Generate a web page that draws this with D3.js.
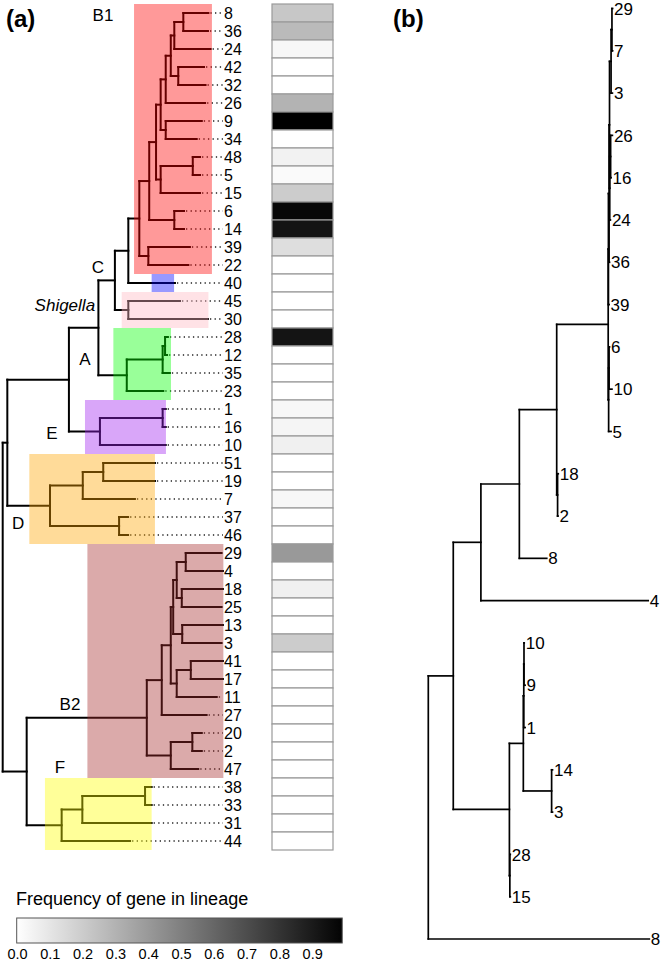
<!DOCTYPE html>
<html><head><meta charset="utf-8">
<script src="https://cdn.jsdelivr.net/npm/d3@7"></script>
<style>
body{margin:0;background:#fff}
svg{display:block}
text{font-family:"Liberation Sans",Arial,Helvetica,sans-serif;fill:#000}
</style></head>
<body><svg id="chart" width="661" height="964"></svg>
<script>
// ---------- DATA ----------
// Tree (a): Newick, value after ':' = distance of node from root
const treeA = "((((((((((((((8:93.5,36:93.3):82.1,24:94.5):78.0,(42:91.5,32:92.2):79.8):76.4,26:92.0):74.1,(9:90.5,34:88.2):74.1):71.8,((48:89.7,5:89.7):86.4,15:89.7):71.8):69.7,(6:82.4,14:82.4):78.0):66.6,(39:85.1,22:84.4):66.2):62.1,40:78.3):57.1,(45:80.6,30:93.3):57.1):51.0,(((28:75.1,12:74.7):73.8,35:76.0):72.7,23:73.0):56.4):43.5,((1:74.1,16:74.1):72.7,10:74.1):44.2):30.1,(((51:69.2,19:69.2):45.7,7:60.1):36.4,(37:57.0,46:57.0):52.9):21.5):2.1,(((((((29:99.5,4:100.1):83.2,(18:100.1,25:99.5):81.4):79.1,(13:100.1,3:99.5):81.6):77.5,((41:100.1,17:100.1):85.5,11:97.3):79.1):76.4,27:92.7):72.3,((20:90.5,2:90.5):86.2,47:88.9):76.4):65.5,(((38:67.7,33:67.7):64.7,31:67.7):36.2,44:57.9):26.8):10.9):0;";

// Frequency of gene in lineage, one value per leaf of tree (a), top to bottom
const heatValues = [0.22,0.27,0.03,0,0,0.30,1.0,0,0.05,0.02,0.20,0.97,0.92,0.13,0,
  0,0,0,
  0.92,0,0,0,
  0.03,0.04,0.06,
  0,0,0.03,0,0,
  0.40,0,0.06,0,0,0.20,0,0,0,0,0,0,0,
  0,0,0,0];

// Clade boxes: first/last leaf index, start/end in tree distance
const cladeNames  = ["B1","40","Shigella","A","E","D","B2","F"];
const cladeFirst  = [0,15,16,18,22,25,30,43];
const cladeLast   = [14,15,17,21,24,29,42,46];
const cladeStart  = [59.7,67.7,54.1,50.3,37.4,12.1,38.5,19.2];
const cladeEnd    = [95.1,77.9,93.5,76.5,74.2,69.2,100.3,67.7];
const cladeColors = ["#ff0000","#0000ff","#ffb6c1","#00ff00","#a020f0","#ffa500","#a52a2a","#ffff00"];

// Clade annotation text (tree distance, leaf index)
const annText  = ["B1","C","Shigella","A","E","D","B2","F"];
const annDist  = [45.6,43.3,42.0,37.4,22.4,7.0,30.6,26.0];
const annLeaf  = [0.1,14.1,16.2,19.2,23.3,28.3,38.4,41.9];

// Tree (b)
const treeB = "((((((((((((29:83.4,7:83.4):83.1,3:83.3):82.7,((26:83.3,16:82.7):82.5,24:82.4):82.1):82.0,36:82.0):81.8,39:81.8):81.5,((6:82.0,10:83.1):81.8,5:82.7):81.6):81.4,(18:58.8,2:58.7):58.5):58.1,8:53.6):41.2,4:99.5):23.8,((((10:43.4,9:43.8):43.3,1:43.8):43.2,(14:56.2,3:56.2):55.8):43.0,(28:37.1,15:37.1):36.9):36.7):11.3,8:100):0;";

// Legend
const legendTicks = [0,0.1,0.2,0.3,0.4,0.5,0.6,0.7,0.8,0.9];
const legendMax = 0.99;
const legendTitle = "Frequency of gene in lineage";

// ---------- HELPERS ----------
function parseNewick(s){
  let i=0;
  function node(){
    const n={children:[]};
    if(s[i]==='('){
      i++; n.children.push(node());
      while(s[i]===','){ i++; n.children.push(node()); }
      i++;
    }
    let name=''; while(i<s.length && !':,();'.includes(s[i])) name+=s[i++];
    n.name=name;
    if(s[i]===':'){ i++; let num=''; while(i<s.length && !',();'.includes(s[i])) num+=s[i++]; n.depth=+num; }
    return n;
  }
  return node();
}
function layoutTree(str){
  const root=d3.hierarchy(parseNewick(str), d=>d.children.length?d.children:null);
  root.leaves().forEach((l,k)=>l.idx=k);
  root.eachAfter(n=>{ if(n.children){ n.idx=(n.children[0].idx+n.children[n.children.length-1].idx)/2; }});
  return root;
}
function segments(root,x,y){
  const segs=[];
  root.each(n=>{
    if(!n.children) return;
    const c0=n.children[0], cl=n.children[n.children.length-1];
    segs.push([x(n.data.depth),y(c0.idx),x(n.data.depth),y(cl.idx)]);
    n.children.forEach(c=>segs.push([x(n.data.depth),y(c.idx),x(c.data.depth),y(c.idx)]));
  });
  return segs;
}

const svg=d3.select("#chart");

// ---------- PANEL (a) ----------
const rootA=layoutTree(treeA);
const leavesA=rootA.leaves();
const xA=d3.scaleLinear().domain([0,100]).range([2.7,222.7]);
const yA=d3.scaleLinear().domain([0,leavesA.length-1]).range([13,841]);
const rowH=yA(1)-yA(0);
const labelX=224;

const gA=svg.append("g");
// leader dots
gA.selectAll("line.lead").data(leavesA).join("line")
  .attr("x1",d=>xA(d.data.depth)+2).attr("x2",labelX-1)
  .attr("y1",d=>yA(d.idx)).attr("y2",d=>yA(d.idx))
  .attr("stroke","#222").attr("stroke-width",1.4)
  .attr("stroke-dasharray","1.3,3.3")
  .attr("display",d=>xA(d.data.depth)+2<labelX-2?null:"none");
// branches
gA.selectAll("path.br").data(segments(rootA,xA,yA)).join("path")
  .attr("d",s=>`M${s[0]},${s[1]}L${s[2]},${s[3]}`)
  .attr("stroke","#000").attr("stroke-width",2).attr("stroke-linecap","square").attr("fill","none");
// leaf labels
gA.selectAll("text.leaf").data(leavesA).join("text")
  .attr("x",labelX).attr("y",d=>yA(d.idx)).attr("dy","0.36em")
  .attr("font-size",16).text(d=>d.data.name);
// clade boxes (semi-transparent over tree)
gA.selectAll("rect.clade").data(cladeNames).join("rect")
  .attr("x",(d,i)=>xA(cladeStart[i]))
  .attr("width",(d,i)=>xA(cladeEnd[i])-xA(cladeStart[i]))
  .attr("y",(d,i)=>yA(cladeFirst[i])-rowH/2)
  .attr("height",(d,i)=>yA(cladeLast[i])-yA(cladeFirst[i])+rowH)
  .attr("fill",(d,i)=>cladeColors[i]).attr("fill-opacity",0.4);
// clade annotations
gA.selectAll("text.ann").data(annText).join("text")
  .attr("x",(d,i)=>xA(annDist[i])).attr("y",(d,i)=>yA(annLeaf[i])).attr("dy","0.36em")
  .attr("text-anchor",d=>d==="Shigella"?"end":"middle")
  .attr("font-style",d=>d==="Shigella"?"italic":"normal")
  .attr("font-size",17).text(d=>d);

// heatmap column
const heatX=272, heatW=61;
const grey=d3.scaleLinear().domain([0,1]).range(["#ffffff","#000000"]);
gA.selectAll("rect.heat").data(heatValues).join("rect")
  .attr("x",heatX).attr("width",heatW)
  .attr("y",(d,i)=>yA(i)-rowH/2).attr("height",rowH)
  .attr("fill",d=>grey(d)).attr("stroke","#9a9a9a").attr("stroke-width",1.2);

// panel label
svg.append("text").attr("x",6).attr("y",27).attr("font-size",24).attr("font-weight","bold").text("(a)");

// legend
const lx=d3.scaleLinear().domain([0,1]).range([17.5,345.5]);
const defs=svg.append("defs");
const grad=defs.append("linearGradient").attr("id","lg").attr("x1","0%").attr("x2","100%");
grad.append("stop").attr("offset","0%").attr("stop-color",grey(0));
grad.append("stop").attr("offset","100%").attr("stop-color",grey(legendMax));
svg.append("text").attr("x",16).attr("y",905).attr("font-size",18).text(legendTitle);
svg.append("rect").attr("x",lx(0)-0.8).attr("y",918).attr("width",lx(legendMax)-lx(0)+0.8).attr("height",25)
  .attr("fill","url(#lg)").attr("stroke","#555").attr("stroke-width",1);
svg.selectAll("text.tick").data(legendTicks).join("text")
  .attr("x",d=>lx(d)).attr("y",959).attr("text-anchor","middle").attr("font-size",14.5)
  .text(d=>d3.format(".1f")(d));

// ---------- PANEL (b) ----------
const rootB=layoutTree(treeB);
const leavesB=rootB.leaves();
const xB=d3.scaleLinear().domain([0,100]).range([428.3,649.3]);
const yB=d3.scaleLinear().domain([0,leavesB.length-1]).range([8.5,939]);
const gB=svg.append("g");
gB.selectAll("path.br").data(segments(rootB,xB,yB)).join("path")
  .attr("d",s=>`M${s[0]},${s[1]}L${s[2]},${s[3]}`)
  .attr("stroke","#000").attr("stroke-width",1.7).attr("stroke-linecap","square").attr("fill","none");
gB.selectAll("text.leaf").data(leavesB).join("text")
  .attr("x",d=>xB(d.data.depth)+1.5).attr("y",d=>yB(d.idx)).attr("dy","0.36em")
  .attr("font-size",17).text(d=>d.data.name);
svg.append("text").attr("x",393).attr("y",27).attr("font-size",24).attr("font-weight","bold").text("(b)");
</script>
</body></html>
